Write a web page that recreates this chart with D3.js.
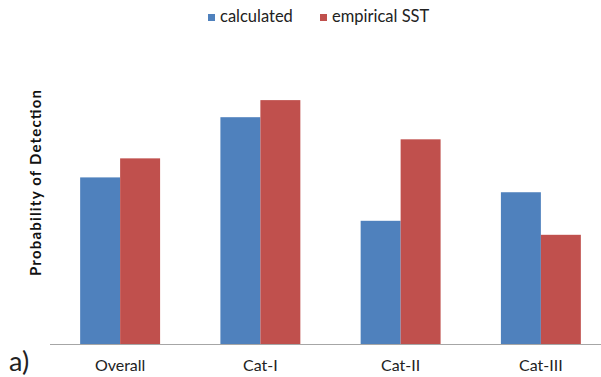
<!DOCTYPE html>
<html><head><meta charset="utf-8">
<script src="https://cdn.jsdelivr.net/npm/d3@7"></script>
<style>body{margin:0;background:#fff}svg{display:block}text{font-family:Lato,"Open Sans",sans-serif}</style>
</head><body>
<svg id="c" width="601" height="377"></svg>
<script>
const categories = ["Overall","Cat-I","Cat-II","Cat-III"];
const seriesNames = ["calculated","empirical SST"];
const calculated = [0.595, 0.810, 0.440, 0.542];
const empirical = [0.663, 0.871, 0.731, 0.390];
const colors = ["#4F81BD","#C0504D"];

const svg = d3.select("#c");
const x = d3.scaleBand().domain(categories).range([50, 611]).paddingInner(0.43).paddingOuter(0.215);
const xs = d3.scaleBand().domain(seriesNames).range([0, x.bandwidth()]);
const y = d3.scaleLinear().domain([0,1]).range([344, 64]);

const data = categories.map((c,i)=>({cat:c, vals:[calculated[i], empirical[i]]}));
const g = svg.append("g");
g.selectAll("g.grp").data(data).join("g").attr("class","grp")
  .attr("transform", d=>`translate(${x(d.cat)},0)`)
  .selectAll("rect").data(d=>d.vals.map((v,j)=>({v, s:seriesNames[j], j})))
  .join("rect")
  .attr("x", d=>xs(d.s)).attr("width", xs.bandwidth())
  .attr("y", d=>y(d.v)).attr("height", d=>y(0)-y(d.v))
  .attr("fill", d=>colors[d.j]);

const ax = svg.append("g").attr("transform","translate(0,344)")
  .call(d3.axisBottom(x).tickSize(0).tickPadding(16));
ax.select(".domain").attr("stroke","#a6a6a6").attr("stroke-width",1.2).attr("d","M50,0.5H611");
ax.selectAll("text").attr("font-size",16).attr("fill","#222").attr("font-family","Lato,sans-serif");

svg.append("text").attr("transform","translate(41,183) rotate(-90)")
  .attr("text-anchor","middle").attr("font-size",15).attr("font-weight","bold").attr("fill","#111")
  .attr("textLength",186).attr("lengthAdjust","spacing")
  .text("Probability of Detection");

svg.append("text").attr("x",9).attr("y",371).attr("font-size",27).attr("fill","#222").text("a)");

const leg = svg.append("g");
const lx = [208, 320];
seriesNames.forEach((s,i)=>{
  leg.append("rect").attr("x",lx[i]).attr("y",14).attr("width",7).attr("height",7).attr("fill",colors[i]);
  leg.append("text").attr("x",lx[i]+12).attr("y",22).attr("font-size",16.5).attr("fill","#222").text(s);
});
</script>
</body></html>
